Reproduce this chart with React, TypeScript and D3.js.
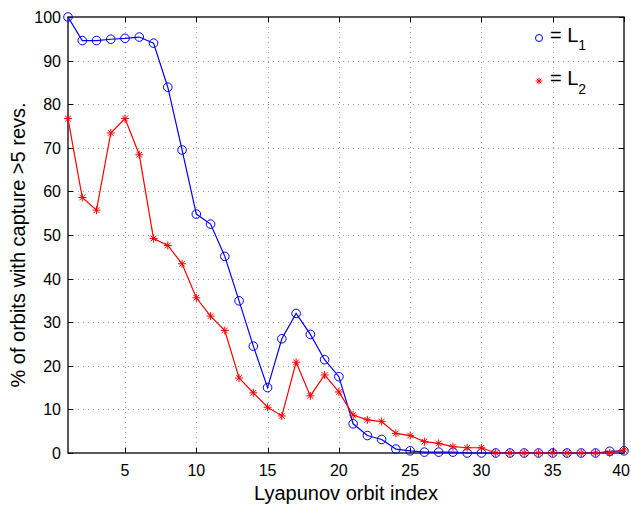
import React from 'react';
import * as d3 from 'd3';

const width = 631;
const height = 507;
const margin = { top: 17, right: 7, bottom: 54, left: 68 };

const orbitIndex = d3.range(1, 41);
const l1Values = [
  100, 94.6, 94.6, 94.9, 95.1, 95.4, 94, 83.9, 69.5, 54.8,
  52.5, 45.1, 34.9, 24.5, 15, 26.2, 32, 27.2, 21.4, 17.5,
  6.7, 4, 3.1, 0.9, 0.5, 0.2, 0.2, 0.2, 0, 0,
  0, 0, 0, 0, 0, 0, 0, 0, 0.4, 0.5,
];
const l2Values = [
  76.7, 58.6, 55.7, 73.4, 76.7, 68.4, 49.2, 47.6, 43.4, 35.6,
  31.4, 28.1, 17.2, 13.8, 10.5, 8.5, 20.8, 13.1, 17.9, 14,
  8.7, 7.6, 7.2, 4.5, 4, 2.6, 2.2, 1.45, 1.2, 1.2,
  0, 0, 0, 0, 0, 0, 0, 0, 0, 0.7,
];
const xTicks = [5, 10, 15, 20, 25, 30, 35, 40];
const yTicks = [0, 10, 20, 30, 40, 50, 60, 70, 80, 90, 100];

const font = '"Liberation Sans", Arial, Helvetica, sans-serif';

// 8-armed asterisk marker, like matlab's '*'
function Star({ x, y, r, color }: { x: number; y: number; r: number; color: string }) {
  const d = [0, 45, 90, 135]
    .map(a => {
      const rad = (a * Math.PI) / 180;
      const dx = r * Math.cos(rad);
      const dy = r * Math.sin(rad);
      return `M${x - dx},${y - dy}L${x + dx},${y + dy}`;
    })
    .join('');
  return <path d={d} stroke={color} strokeWidth={1} fill="none" />;
}

export default function App() {
  const x = d3.scaleLinear().domain([1, 40]).range([margin.left, width - margin.right]);
  const y = d3.scaleLinear().domain([0, 100]).range([height - margin.bottom, margin.top]);
  const [x0, x1] = x.range();
  const [y0, y1] = y.range();

  const line = d3
    .line<number>()
    .x((_, i) => x(orbitIndex[i]))
    .y(d => y(d));

  const tickLen = 5;
  const px = (v: number) => Math.round(v) + 0.5;

  return (
    <svg width={width} height={height} style={{ position: 'absolute', left: 0, top: 0, background: '#fff' }}>
      <rect x={0} y={0} width={width} height={height} fill="#fff" />
      {/* grid */}
      <g stroke="#999" strokeWidth={1} strokeDasharray="1,4">
        {xTicks.filter(t => t < 40).map(t => (
          <line key={'gx' + t} x1={px(x(t))} x2={px(x(t))} y1={y0} y2={y1} />
        ))}
        {yTicks.filter(t => t > 0 && t < 100).map(t => (
          <line key={'gy' + t} x1={x0} x2={x1} y1={px(y(t))} y2={px(y(t))} />
        ))}
      </g>
      {/* ticks on all four sides */}
      <g stroke="#000" strokeWidth={1}>
        {xTicks.map(t => (
          <g key={'tx' + t}>
            <line x1={px(x(t))} x2={px(x(t))} y1={y0} y2={y0 - tickLen} />
            <line x1={px(x(t))} x2={px(x(t))} y1={y1} y2={y1 + tickLen} />
          </g>
        ))}
        {yTicks.map(t => (
          <g key={'ty' + t}>
            <line x1={x0} x2={x0 + tickLen} y1={px(y(t))} y2={px(y(t))} />
            <line x1={x1} x2={x1 - tickLen} y1={px(y(t))} y2={px(y(t))} />
          </g>
        ))}
      </g>
      <rect x={x0} y={y1} width={x1 - x0} height={y0 - y1} fill="none" stroke="#000" strokeWidth={1.3} />
      {/* tick labels; the last one is kept inside the page */}
      <g fontFamily={font} fontSize={16} fill="#000">
        {xTicks.map(t => (
          <text
            key={'lx' + t}
            x={t === 40 ? width - 1 : x(t)}
            y={y0 + 23}
            textAnchor={t === 40 ? 'end' : 'middle'}
          >
            {t}
          </text>
        ))}
        {yTicks.map(t => (
          <text key={'ly' + t} x={x0 - 7} y={y(t) + 6} textAnchor="end">{t}</text>
        ))}
      </g>
      <text x={(x0 + x1) / 2} y={500} textAnchor="middle" fontFamily={font} fontSize={20}>
        Lyapunov orbit index
      </text>
      <text
        transform={`translate(25,${(y0 + y1) / 2 + 10}) rotate(-90)`}
        textAnchor="middle"
        fontFamily={font}
        fontSize={20}
      >
        % of orbits with capture &gt;5 revs.
      </text>
      {/* series */}
      <path d={line(l1Values) || ''} fill="none" stroke="#0000ff" strokeWidth={1.2} />
      {l1Values.map((v, i) => (
        <circle key={'c' + i} cx={x(orbitIndex[i])} cy={y(v)} r={4.3} fill="none" stroke="#0000ff" strokeWidth={1} />
      ))}
      <path d={line(l2Values) || ''} fill="none" stroke="#ff0000" strokeWidth={1.2} />
      {l2Values.map((v, i) => (
        <Star key={'s' + i} x={x(orbitIndex[i])} y={y(v)} r={4} color="#ff0000" />
      ))}
      {/* legend */}
      <circle cx={539} cy={38} r={3.5} fill="none" stroke="#0000ff" strokeWidth={1} />
      <text x={550} y={42} fontFamily={font} fontSize={20}>
        = L<tspan fontSize={14} dy={8}>1</tspan>
      </text>
      <Star x={539} y={81} r={3.3} color="#ff0000" />
      <text x={550} y={85} fontFamily={font} fontSize={20}>
        = L<tspan fontSize={14} dy={9}>2</tspan>
      </text>
    </svg>
  );
}
